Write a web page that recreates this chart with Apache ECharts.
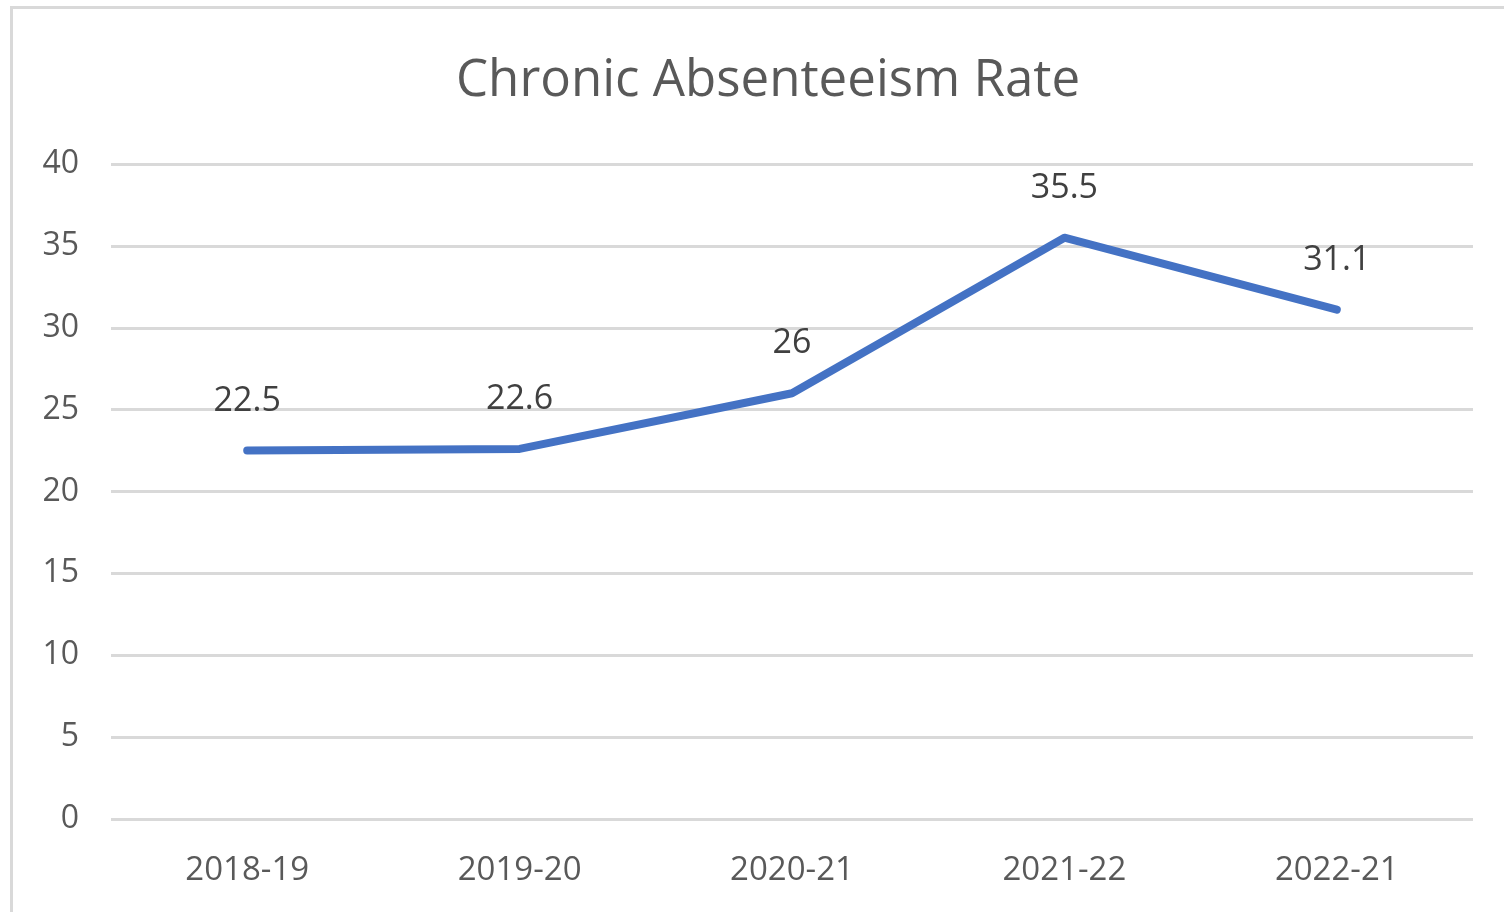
<!DOCTYPE html>
<html>
<head>
<meta charset="utf-8">
<script src="https://cdn.jsdelivr.net/npm/echarts@6/dist/echarts.min.js"></script>
<style>
  html, body { margin: 0; padding: 0; background: #fff; }
  #chart { width: 1504px; height: 912px; }
</style>
</head>
<body>
<div id="chart"></div>
<script>
const categories = ['2018-19', '2019-20', '2020-21', '2021-22', '2022-21']
const rates = [22.5, 22.6, 26, 35.5, 31.1]
const yTicks = { min: 0, max: 40, interval: 5 }

const font = '"Open Sans", "Noto Sans", sans-serif'
const chart = echarts.init(document.getElementById('chart'))

chart.setOption({
  backgroundColor: '#fff',
  animation: false,
  title: {
    text: 'Chronic Absenteeism Rate',
    left: 451,
    top: 51,
    textStyle: { fontFamily: font, fontSize: 51, fontWeight: 'normal', color: '#595959' }
  },
  graphic: [{
    type: 'rect',
    shape: { x: 11.5, y: 7.5, width: 1600, height: 1000 },
    style: { fill: 'none', stroke: '#d9d9d9', lineWidth: 3 },
    silent: true
  }],
  grid: { left: 111, right: 31, top: 164, bottom: 93, containLabel: false },
  xAxis: {
    type: 'category',
    data: categories,
    boundaryGap: true,
    axisLine: { show: false },
    axisTick: { show: false },
    axisLabel: { fontFamily: font, fontSize: 33, color: '#595959', margin: 35 }
  },
  yAxis: {
    type: 'value',
    min: yTicks.min,
    max: yTicks.max,
    interval: yTicks.interval,
    axisLine: { show: false },
    axisTick: { show: false },
    axisLabel: { fontFamily: font, fontSize: 32, color: '#595959', margin: 32 },
    splitLine: { lineStyle: { color: '#d9d9d9', width: 3 } }
  },
  series: [{
    type: 'line',
    data: rates,
    symbol: 'circle',
    symbolSize: 1,
    itemStyle: { color: '#4472c4' },
    lineStyle: { color: '#4472c4', width: 8, cap: 'round', join: 'round' },
    label: {
      show: true,
      position: 'top',
      distance: 32,
      fontFamily: font,
      fontSize: 34,
      color: '#404040'
    }
  }]
})
</script>
</body>
</html>
